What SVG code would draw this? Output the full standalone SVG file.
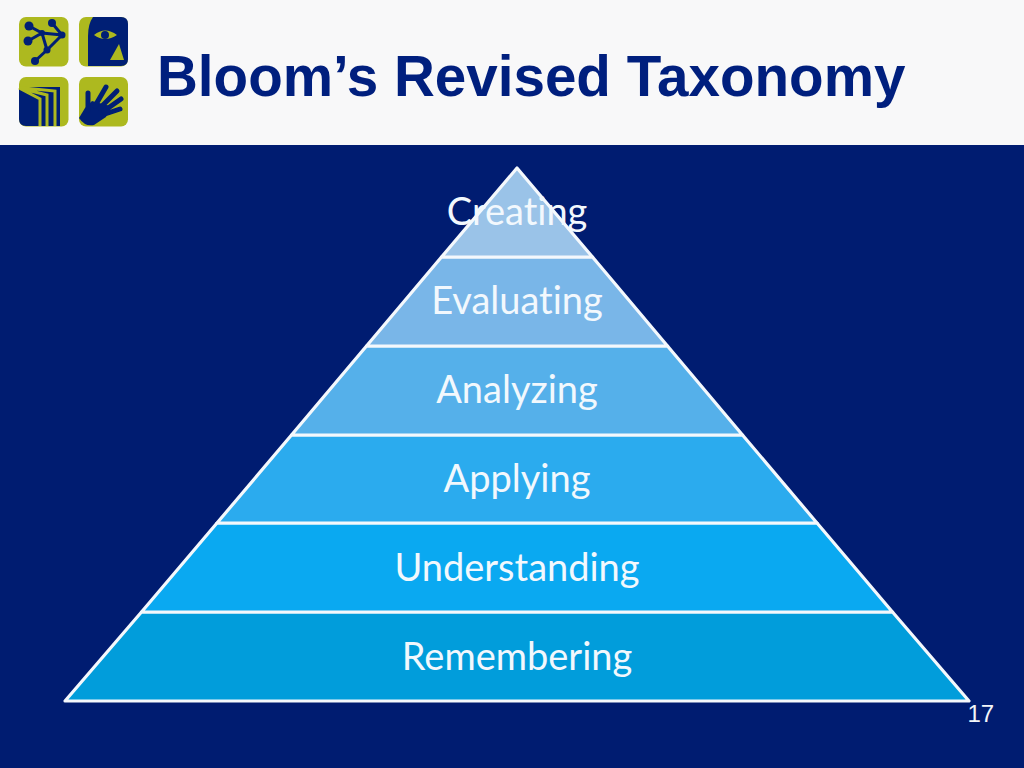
<svg xmlns="http://www.w3.org/2000/svg" width="1024" height="768" viewBox="0 0 1024 768">
<style>
.lv{stroke:#F4F8FC;stroke-width:3.200;stroke-linejoin:round}
.lb{font-family:"Lato","Open Sans",sans-serif;font-size:38px;fill:#F2F8FD;text-anchor:middle;font-variant-ligatures:none}
.tile{fill:#ADB91F}
.ink{fill:#001F75}
.line{stroke:#001F75;stroke-width:3;fill:none}
.cut{stroke:#ADB91F;stroke-width:3;fill:none}
.fng{stroke:#001F75;stroke-width:5;stroke-linecap:round;fill:none}
</style>
<rect width="1024" height="768" fill="#001C71"/>
<rect width="1024" height="145" fill="#F8F8F9"/>
<g id="logo">
<rect class="tile" x="19" y="17" width="49.500" height="49.500" rx="7"/>
<path class="line" d="M29 26L42 33L62 35L47 50L35 61M28 41L42 33L47 50M52 23L62 35"/>
<g class="ink"><circle cx="29" cy="26" r="4.500"/><circle cx="52" cy="23" r="4"/><circle cx="28" cy="41" r="4.500"/><circle cx="62" cy="35" r="3.500"/><circle cx="42" cy="33" r="3"/><circle cx="47" cy="50" r="3.500"/><circle cx="35" cy="61" r="4"/></g>
<rect class="tile" x="79" y="17" width="49" height="49.500" rx="7"/>
<path class="ink" d="M93 17H121Q128 17 128 24V59Q128 66 121 66H88V36Q88 24 93 17Z"/>
<path class="tile" d="M94 35Q105 26 117 35Q105 43 94 35ZM119 44L124 60H110Z"/>
<circle class="ink" cx="105" cy="35" r="4"/>
<rect class="tile" x="19" y="77" width="49.500" height="49.500" rx="7"/>
<path class="ink" d="M19 87H60V126H26Q19 126 19 119Z"/>
<path class="cut" d="M19 88L40 99V126M19 88L47 95V126M19 87.500L55 91V126"/>
<rect class="tile" x="79" y="77" width="49" height="49.500" rx="7"/>
<path class="ink" d="M79 118L85 108L92 101L110 106L106 117L94 125Q85 127 79 118Z"/>
<path class="fng" d="M88 93L88 110M95 106L106 87M100 108L117 91M104 111L121 99M105 114L120 109"/>
</g>
<text id="title" x="157" y="95.500" font-family="Liberation Sans, Arial, sans-serif" font-weight="700" font-size="56.600" fill="#001F7E">Bloom’s Revised Taxonomy</text>
<g id="pyramid">
<g id="level-remembering"><path class="lv" fill="#019DDB" d="M141.500 612H892.500L969 701H65Z"/><text class="lb" x="517" y="669.500">Remembering</text></g>
<g id="level-understanding"><path class="lv" fill="#0AA9F1" d="M217 523H817L892.500 612H141.500Z"/><text class="lb" x="517" y="580.500">Understanding</text></g>
<g id="level-applying"><path class="lv" fill="#2BABEE" d="M291.500 435H742.500L817 523H217Z"/><text class="lb" x="517" y="491.500">Applying</text></g>
<g id="level-analyzing"><path class="lv" fill="#55B0EA" d="M366.500 346H667.500L742.500 435H291.500Z"/><text class="lb" x="517" y="402.500">Analyzing</text></g>
<g id="level-evaluating"><path class="lv" fill="#79B6E8" d="M441.500 257H592.500L667.500 346H366.500Z"/><text class="lb" x="517" y="313.500">Evaluating</text></g>
<g id="level-creating"><path class="lv" fill="#9AC3E8" d="M517 168L592.500 257H441.500Z"/><text class="lb" x="517" y="224.500">Creating</text></g>
</g>
<text id="page" x="967.500" y="722" font-family="Liberation Sans, Arial, sans-serif" font-size="24" fill="#F2F5F9">17</text>
</svg>
